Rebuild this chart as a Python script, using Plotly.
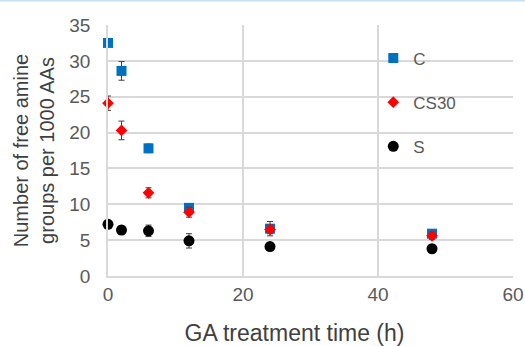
import plotly.graph_objects as go

time_h = [0, 2, 6, 12, 24, 48]
c_vals = [32.5, 28.6, 17.8, 9.5, 6.6, 5.9]
c_err = [0.5, 1.3, 0.6, 0.6, 1.0, 0.5]
cs30_vals = [24.1, 20.3, 11.6, 8.9, 6.5, 5.6]
cs30_err = [1.0, 1.3, 0.7, 0.7, 0.6, 0.5]
s_vals = [7.2, 6.4, 6.3, 4.9, 4.1, 3.8]
s_err = [0.3, 0.6, 0.8, 1.0, 0.3, 0.5]

series = [
    ("C", c_vals, c_err, "square", "#0070C0", 10),
    ("CS30", cs30_vals, cs30_err, "diamond", "#FF0000", 9),
    ("S", s_vals, s_err, "circle", "#000000", 11),
]

fig = go.Figure()
for name, vals, err, sym, col, sz in series:
    fig.add_trace(go.Scatter(
        x=time_h, y=vals, mode="markers", name=name, legendgroup=name,
        cliponaxis=False,
        marker=dict(symbol=sym, color=col, size=sz, line=dict(width=0)),
        error_y=dict(type="data", array=err, visible=True, color="#404040",
                     thickness=1, width=3),
    ))

axis_common = dict(
    showgrid=True, gridcolor="#D9D9D9", gridwidth=1.5,
    showline=True, linecolor="#D9D9D9", linewidth=1.5,
    zeroline=False, ticks="", mirror=False, automargin=False,
    tickfont=dict(family="Liberation Sans, Arial", size=19, color="#595959"),
)

fig.update_layout(
    width=525, height=346,
    margin=dict(l=108, r=12, t=25, b=70),
    paper_bgcolor="white", plot_bgcolor="white",
    font=dict(family="Liberation Sans, Arial", color="#404040"),
    showlegend=True,
    legend=dict(x=0.655, y=0.938, xanchor="left", yanchor="top",
                bgcolor="rgba(0,0,0,0)", tracegroupgap=19,
                font=dict(size=17, color="#595959"), itemwidth=30),
    xaxis=dict(range=[0, 60], tickvals=[0, 20, 40, 60],
               title=dict(text="GA treatment time (h)&nbsp;&nbsp;&nbsp;&nbsp;&nbsp;", standoff=25,
                          font=dict(size=23, color="#404040")),
               **axis_common),
    yaxis=dict(range=[0, 35], tickvals=[0, 5, 10, 15, 20, 25, 30, 35],
               ticklabelstandoff=12,
               title=dict(text="Number of free amine<br>groups per 1000 AAs", standoff=9,
                          font=dict(size=20, color="#404040")),
               **axis_common),
    shapes=[dict(type="line", xref="paper", yref="paper", x0=-0.3, x1=1.1,
                 y0=1 + 24.5 / 251, y1=1 + 24.5 / 251,
                 line=dict(color="#C5E0F0", width=2))],
)

fig.write_html("out.html")
